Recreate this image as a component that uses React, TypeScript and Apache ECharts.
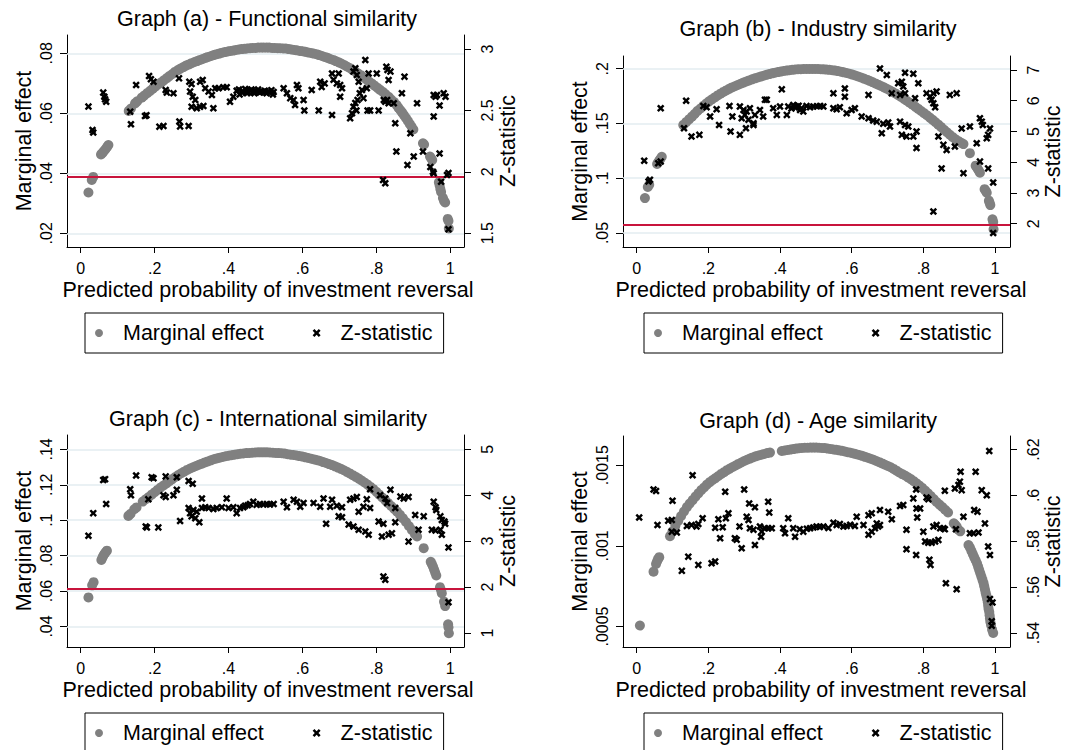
import React, { useEffect, useRef } from "react";
import * as echarts from "echarts";

const FONT = '"Liberation Sans", Arial, Helvetica, sans-serif';

const titles = [
  "Graph (a) - Functional similarity",
  "Graph (b) - Industry similarity",
  "Graph (c) - International similarity",
  "Graph (d) - Age similarity",
];
const xTitle = "Predicted probability of investment reversal";
const leftTitle = "Marginal effect";
const rightTitle = "Z-statistic";
const seriesNames = ["Marginal effect", "Z-statistic"];

const xTicks = [0, 0.2, 0.4, 0.6, 0.8, 1];
const leftTicksA = [0.02, 0.04, 0.06, 0.08];
const rightTicksA = [1.5, 2, 2.5, 3];
const leftTicksB = [0.05, 0.1, 0.15, 0.2];
const rightTicksB = [2, 3, 4, 5, 6, 7];
const leftTicksC = [0.04, 0.06, 0.08, 0.1, 0.12, 0.14];
const rightTicksC = [1, 2, 3, 4, 5];
const leftTicksD = [0.0005, 0.001, 0.0015];
const rightTicksD = [0.54, 0.56, 0.58, 0.6, 0.62];

const criticalZ = 1.96;

// Graph (a)
const meA = [
  [0.021,0.0336],[0.030,0.0378],[0.034,0.0388],
  [0.055,0.0463],[0.059,0.0468],[0.063,0.0474],[0.067,0.0480],[0.071,0.0487],[0.075,0.0494],
  [0.130,0.0608],[0.136,0.0616],[0.147,0.0633],[0.153,0.0640],
  [0.165,0.0652],[0.172,0.0659],[0.180,0.0667],[0.188,0.0675],[0.195,0.0682],[0.203,0.0690],[0.210,0.0697],[0.218,0.0703],[0.225,0.0710],[0.233,0.0717],[0.240,0.0724],[0.248,0.0731],[0.255,0.0738],[0.263,0.0744],[0.270,0.0749],[0.278,0.0754],[0.285,0.0759],[0.293,0.0763],[0.300,0.0767],[0.308,0.0771],[0.315,0.0774],[0.323,0.0778],[0.330,0.0781],[0.338,0.0785],[0.345,0.0788],[0.353,0.0791],[0.360,0.0794],[0.368,0.0797],[0.375,0.0799],[0.383,0.0802],[0.390,0.0804],[0.398,0.0806],[0.405,0.0808],[0.413,0.0809],[0.420,0.0811],[0.428,0.0813],[0.435,0.0814],[0.443,0.0815],[0.450,0.0816],[0.458,0.0817],[0.465,0.0818],[0.473,0.0818],[0.480,0.0819],[0.488,0.0819],[0.495,0.0819],[0.503,0.0819],[0.510,0.0819],[0.518,0.0818],[0.525,0.0818],[0.533,0.0817],[0.540,0.0817],[0.548,0.0816],[0.555,0.0816],[0.563,0.0814],[0.570,0.0813],[0.578,0.0811],[0.585,0.0810],[0.593,0.0808],[0.600,0.0807],[0.608,0.0805],[0.615,0.0803],[0.623,0.0801],[0.630,0.0799],[0.638,0.0797],[0.645,0.0794],[0.653,0.0791],[0.660,0.0788],[0.668,0.0785],[0.675,0.0781],[0.683,0.0778],[0.690,0.0774],[0.698,0.0770],[0.705,0.0766],[0.713,0.0761],[0.720,0.0756],[0.728,0.0751],[0.735,0.0745],[0.743,0.0739],[0.750,0.0733],[0.758,0.0727],[0.765,0.0720],[0.773,0.0713],[0.780,0.0706],[0.788,0.0699],[0.795,0.0692],[0.803,0.0685],[0.810,0.0678],[0.818,0.0671],[0.825,0.0663],[0.833,0.0655],[0.840,0.0646],[0.848,0.0637],[0.855,0.0627],[0.860,0.0618],[0.865,0.0610],[0.870,0.0602],[0.875,0.0593],[0.880,0.0584],[0.885,0.0575],[0.890,0.0565],[0.895,0.0556],[0.900,0.0546],
  [0.926,0.0500],[0.929,0.0496],[0.945,0.0456],[0.948,0.0450],[0.951,0.0444],[0.969,0.0370],[0.971,0.0360],[0.973,0.0348],[0.975,0.0338],[0.980,0.0318],[0.983,0.0308],[0.986,0.0303],[0.993,0.0248],[0.995,0.0241],[0.996,0.0216],
];
const zA = [
  [0.021,2.531],[0.032,2.341],[0.034,2.32],[0.061,2.645],[0.064,2.612],[0.066,2.59],[0.069,2.571],
  [0.134,2.49],[0.136,2.387],[0.150,2.707],[0.174,2.455],[0.178,2.46],[0.185,2.78],[0.190,2.753],[0.197,2.734],[0.213,2.368],[0.224,2.373],[0.230,2.666],[0.233,2.645],[0.251,2.639],[0.266,2.761],[0.267,2.41],[0.269,2.37],[0.292,2.373],[0.294,2.734],[0.300,2.715],[0.296,2.653],[0.303,2.612],[0.310,2.585],[0.300,2.53],[0.314,2.517],[0.323,2.53],[0.332,2.536],[0.323,2.734],[0.330,2.747],[0.337,2.68],[0.346,2.653],[0.355,2.626],[0.359,2.517],[0.364,2.68],[0.373,2.68],[0.386,2.688],[0.395,2.688],[0.404,2.571],[0.413,2.612],
  [0.422,2.66],[0.428,2.67],[0.430,2.63],[0.436,2.645],[0.440,2.655],[0.445,2.675],[0.449,2.665],[0.450,2.64],[0.453,2.65],[0.458,2.66],[0.462,2.67],[0.467,2.65],[0.470,2.64],[0.471,2.66],[0.476,2.655],[0.480,2.67],[0.485,2.645],[0.490,2.655],[0.494,2.648],[0.498,2.66],[0.503,2.64],[0.507,2.655],[0.512,2.645],[0.516,2.665],[0.520,2.63],[0.522,2.65],
  [0.549,2.68],[0.558,2.64],[0.567,2.6],[0.576,2.585],[0.580,2.544],[0.585,2.707],[0.589,2.68],[0.603,2.585],[0.605,2.5],[0.625,2.666],[0.644,2.5],[0.648,2.734],[0.652,2.69],[0.660,2.72],[0.680,2.8],[0.684,2.75],[0.693,2.72],[0.680,2.463],[0.698,2.8],[0.702,2.707],[0.707,2.68],[0.702,2.612],[0.729,2.436],[0.734,2.477],[0.738,2.53],[0.743,2.56],[0.738,2.816],[0.743,2.843],[0.747,2.788],[0.752,2.734],[0.746,2.50],[0.749,2.585],[0.755,2.64],[0.761,2.666],[0.765,2.6],[0.770,2.91],[0.774,2.68],[0.779,2.8],[0.776,2.5],[0.783,2.5],[0.801,2.8],[0.806,2.5],[0.818,1.934],[0.824,1.907],[0.820,2.585],[0.824,2.571],[0.829,2.585],[0.833,2.558],[0.827,2.856],[0.830,2.83],[0.833,2.747],[0.838,2.816],[0.847,2.558],[0.851,2.395],[0.854,2.165],[0.869,2.639],[0.876,2.775],[0.884,2.056],[0.901,2.124],[0.892,2.314],[0.910,2.558],[0.926,2.165],[0.946,2.04],[0.953,2.0],[0.955,1.988],[0.955,2.626],[0.960,2.612],[0.964,2.626],[0.955,2.45],[0.971,2.54],[0.971,2.15],[0.975,1.92],[0.982,2.64],[0.987,2.612],[0.991,1.975],[0.995,1.99],[0.995,1.533],
];

// Graph (b)
const meB = [
  [0.023,0.0819],[0.031,0.0920],[0.035,0.0940],[0.057,0.1130],[0.060,0.1145],[0.063,0.1160],[0.066,0.1175],[0.070,0.1195],
  [0.130,0.1487],[0.138,0.1512],[0.146,0.1537],[0.154,0.1562],[0.162,0.1588],[0.170,0.1615],[0.178,0.1637],[0.186,0.1660],[0.194,0.1682],[0.202,0.1702],[0.210,0.1720],[0.218,0.1738],[0.226,0.1756],[0.234,0.1772],[0.242,0.1788],[0.250,0.1802],[0.258,0.1816],[0.266,0.1829],[0.274,0.1840],[0.282,0.1851],[0.290,0.1863],[0.298,0.1873],[0.306,0.1883],[0.314,0.1893],[0.322,0.1903],[0.330,0.1912],[0.338,0.1920],[0.346,0.1928],[0.354,0.1936],[0.362,0.1944],[0.370,0.1951],[0.378,0.1958],[0.386,0.1964],[0.394,0.1969],[0.402,0.1974],[0.410,0.1979],[0.418,0.1983],[0.426,0.1987],[0.434,0.1990],[0.442,0.1993],[0.450,0.1995],[0.458,0.1996],[0.466,0.1997],[0.474,0.1998],[0.482,0.1998],[0.490,0.1998],[0.498,0.1998],[0.506,0.1997],[0.514,0.1996],[0.522,0.1994],[0.530,0.1992],[0.538,0.1990],[0.546,0.1987],[0.554,0.1983],[0.562,0.1978],[0.570,0.1973],[0.578,0.1967],[0.586,0.1961],[0.594,0.1954],[0.602,0.1946],[0.610,0.1938],[0.618,0.1929],[0.626,0.1920],[0.634,0.1910],[0.642,0.1900],[0.650,0.1889],[0.658,0.1878],[0.666,0.1866],[0.674,0.1854],[0.682,0.1842],[0.690,0.1830],[0.698,0.1817],[0.706,0.1803],[0.714,0.1789],[0.722,0.1774],[0.730,0.1758],[0.738,0.1742],[0.746,0.1725],[0.754,0.1707],[0.762,0.1689],[0.770,0.1671],[0.778,0.1652],[0.786,0.1633],[0.794,0.1614],[0.802,0.1594],[0.810,0.1575],[0.818,0.1554],[0.826,0.1533],[0.834,0.1511],[0.842,0.1489],[0.850,0.1466],[0.858,0.1443],[0.866,0.1420],[0.874,0.1397],[0.882,0.1375],[0.890,0.1355],[0.898,0.1338],[0.906,0.1323],[0.912,0.1312],
  [0.930,0.1229],[0.946,0.1115],[0.949,0.1100],[0.952,0.1085],[0.955,0.1068],[0.958,0.1050],[0.971,0.0900],[0.974,0.0885],[0.977,0.0868],[0.983,0.0795],[0.985,0.0775],[0.987,0.0755],[0.993,0.0625],[0.995,0.0600],[0.996,0.0535],
];
const zB = [
  [0.021,4.045],[0.033,3.374],[0.037,3.43],[0.067,5.755],[0.060,3.97],[0.067,4.02],
  [0.132,5.106],[0.138,6.0],[0.153,4.835],[0.175,4.89],[0.186,5.83],[0.195,5.79],[0.205,5.485],[0.223,5.72],[0.230,5.214],[0.259,5.83],[0.262,5.0],[0.267,5.485],[0.288,4.89],[0.288,5.81],[0.298,5.70],[0.307,5.65],[0.316,5.755],[0.293,5.43],[0.302,5.54],[0.312,5.38],[0.326,5.27],[0.330,5.54],[0.305,5.106],[0.326,5.21],[0.344,5.70],[0.353,5.485],[0.358,6.03],[0.363,6.03],[0.381,5.755],[0.391,5.54],[0.400,5.81],[0.405,6.37],[0.419,5.54],[0.423,5.81],[0.437,5.86],[0.447,5.81],[0.456,5.7],[0.465,5.65],[0.432,5.75],[0.442,5.78],[0.452,5.84],[0.460,5.76],[0.474,5.83],[0.484,5.79],[0.493,5.81],[0.503,5.82],[0.512,5.83],[0.521,5.81],[0.549,5.755],[0.558,5.72],[0.567,5.79],[0.549,6.24],[0.581,6.40],[0.581,6.13],[0.586,5.59],[0.600,5.70],[0.609,5.755],[0.628,5.485],[0.647,5.43],[0.660,5.355],[0.670,5.32],[0.688,5.25],[0.702,5.29],[0.647,6.19],[0.679,7.05],[0.698,6.84],[0.684,4.94],[0.707,5.16],[0.712,6.24],[0.730,6.57],[0.740,6.62],[0.744,6.46],[0.749,6.24],[0.735,6.19],[0.749,6.91],[0.772,6.88],[0.735,5.32],[0.749,5.21],[0.758,5.16],[0.740,4.89],[0.753,4.835],[0.772,4.835],[0.781,5.0],[0.777,6.08],[0.781,4.46],[0.786,6.57],[0.809,6.24],[0.819,6.13],[0.823,6.03],[0.828,5.92],[0.833,5.79],[0.837,6.3],[0.828,6.24],[0.828,2.4],[0.842,4.835],[0.856,4.565],[0.865,4.4],[0.851,3.8],[0.874,6.19],[0.893,6.24],[0.888,4.51],[0.907,5.1],[0.930,5.16],[0.912,3.645],[0.949,4.62],[0.958,5.43],[0.963,5.32],[0.966,5.21],[0.958,4.02],[0.977,4.78],[0.981,4.89],[0.986,5.1],[0.981,3.8],[0.995,3.34],[0.995,1.70],
];

// Graph (c)
const meC = [
  [0.021,0.0564],[0.031,0.0632],[0.035,0.0650],[0.056,0.0775],[0.059,0.0790],[0.062,0.0802],[0.065,0.0812],[0.068,0.0820],[0.071,0.0828],
  [0.129,0.1024],[0.135,0.1036],[0.145,0.1062],[0.151,0.1072],
  [0.168,0.1105],[0.176,0.1118],[0.184,0.1131],[0.192,0.1144],[0.200,0.1158],[0.208,0.1171],[0.216,0.1184],[0.224,0.1196],[0.232,0.1207],[0.240,0.1220],[0.248,0.1232],[0.256,0.1244],[0.264,0.1255],[0.272,0.1265],[0.280,0.1274],[0.288,0.1284],[0.296,0.1292],[0.304,0.1299],[0.312,0.1306],[0.320,0.1313],[0.328,0.1319],[0.336,0.1326],[0.344,0.1332],[0.352,0.1338],[0.360,0.1344],[0.368,0.1349],[0.376,0.1353],[0.384,0.1357],[0.392,0.1361],[0.400,0.1364],[0.408,0.1367],[0.416,0.1370],[0.424,0.1373],[0.432,0.1375],[0.440,0.1377],[0.448,0.1379],[0.456,0.1380],[0.464,0.1381],[0.472,0.1382],[0.480,0.1383],[0.488,0.1383],[0.496,0.1383],[0.504,0.1383],[0.512,0.1382],[0.520,0.1381],[0.528,0.1380],[0.536,0.1379],[0.544,0.1378],[0.552,0.1376],[0.560,0.1373],[0.568,0.1370],[0.576,0.1368],[0.584,0.1365],[0.592,0.1362],[0.600,0.1359],[0.608,0.1355],[0.616,0.1351],[0.624,0.1347],[0.632,0.1343],[0.640,0.1339],[0.648,0.1334],[0.656,0.1328],[0.664,0.1323],[0.672,0.1317],[0.680,0.1311],[0.688,0.1304],[0.696,0.1297],[0.704,0.1290],[0.712,0.1282],[0.720,0.1273],[0.728,0.1264],[0.736,0.1254],[0.744,0.1245],[0.752,0.1235],[0.760,0.1224],[0.768,0.1213],[0.776,0.1201],[0.784,0.1188],[0.792,0.1175],[0.800,0.1160],[0.808,0.1144],[0.816,0.1128],[0.824,0.1112],[0.832,0.1096],[0.840,0.1080],[0.848,0.1064],[0.856,0.1048],[0.864,0.1030],[0.872,0.1010],[0.880,0.0990],[0.888,0.0967],[0.896,0.0945],[0.904,0.0922],[0.910,0.0908],
  [0.928,0.0842],[0.947,0.0765],[0.950,0.0752],[0.953,0.0738],[0.956,0.0722],[0.959,0.0705],[0.962,0.0688],[0.972,0.0622],[0.975,0.0605],[0.977,0.0588],[0.983,0.0540],[0.986,0.0515],[0.994,0.0412],[0.995,0.0395],[0.996,0.0362],
];
const zC = [
  [0.021,3.116],[0.034,3.61],[0.061,4.33],[0.066,4.35],[0.069,3.81],
  [0.134,4.13],[0.136,4.0],[0.150,4.43],[0.176,3.32],[0.179,3.3],[0.183,3.91],[0.192,4.39],[0.197,4.37],[0.210,3.3],[0.224,4.0],[0.230,3.96],[0.230,4.41],[0.251,4.0],[0.260,4.12],[0.260,4.39],[0.269,3.44],[0.292,4.31],[0.303,4.25],[0.292,3.72],[0.296,3.61],[0.300,3.54],[0.310,3.5],[0.321,3.41],[0.305,3.68],[0.314,3.64],[0.328,3.93],
  [0.328,3.72],[0.337,3.74],[0.346,3.72],[0.359,3.70],[0.368,3.72],[0.382,3.74],[0.395,3.93],[0.400,3.72],[0.413,3.74],[0.422,3.61],[0.431,3.72],[0.445,3.77],[0.458,3.81],[0.467,3.86],[0.485,3.81],[0.504,3.81],[0.522,3.81],[0.440,3.74],[0.452,3.78],[0.476,3.79],[0.494,3.80],[0.512,3.80],
  [0.549,3.86],[0.558,3.74],[0.576,3.9],[0.585,3.86],[0.594,3.75],[0.603,3.83],[0.630,3.83],[0.648,3.75],[0.657,3.93],[0.664,3.38],[0.675,3.75],[0.680,3.9],[0.693,3.77],[0.707,3.74],[0.698,3.54],[0.707,3.52],[0.725,3.36],[0.738,3.32],[0.752,3.25],[0.770,3.21],[0.779,3.14],[0.729,3.9],[0.738,3.93],[0.747,3.96],[0.752,3.64],[0.765,3.75],[0.774,3.91],[0.783,3.72],[0.783,4.13],[0.806,3.43],[0.810,4.0],[0.819,3.38],[0.824,3.93],[0.829,3.83],[0.838,4.12],[0.815,3.1],[0.833,3.14],[0.842,3.17],[0.819,2.23],[0.824,2.16],[0.851,3.72],[0.851,3.41],[0.865,3.97],[0.874,3.93],[0.887,3.96],[0.887,2.99],[0.905,3.57],[0.914,3.25],[0.928,3.54],[0.955,3.86],[0.960,3.74],[0.962,3.68],[0.950,3.25],[0.960,3.23],[0.973,3.54],[0.977,3.46],[0.973,3.25],[0.977,3.14],[0.984,3.43],[0.986,3.38],[0.995,2.86],[0.995,1.67],
];

// Graph (d)
const meD = [
  [0.009,0.000506],[0.047,0.000840],[0.054,0.000888],[0.057,0.000905],[0.060,0.000920],[0.063,0.000930],
  [0.093,0.00106],[0.100,0.00109],[0.108,0.001125],[0.116,0.001155],[0.124,0.001185],[0.132,0.001213],[0.140,0.00124],[0.148,0.001262],[0.156,0.001283],[0.164,0.001305],[0.172,0.001325],[0.180,0.001345],[0.188,0.001362],[0.196,0.00138],[0.204,0.001395],[0.212,0.001408],[0.220,0.00142],[0.228,0.001433],[0.236,0.001446],[0.244,0.001457],[0.252,0.001469],[0.260,0.001479],[0.268,0.001489],[0.276,0.001498],[0.284,0.001508],[0.292,0.001517],[0.300,0.001526],[0.308,0.001534],[0.316,0.001541],[0.324,0.001548],[0.332,0.001555],[0.340,0.00156],[0.348,0.001565],[0.356,0.00157],[0.364,0.001575],[0.372,0.001578],
  [0.405,0.001588],[0.413,0.001591],[0.421,0.001594],[0.429,0.001597],[0.437,0.0016],[0.445,0.001603],[0.453,0.001605],[0.461,0.001607],[0.469,0.001608],[0.477,0.001608],[0.485,0.001609],[0.493,0.001609],[0.501,0.001609],[0.509,0.001608],[0.517,0.001607],[0.525,0.001606],[0.533,0.001603],[0.541,0.001601],[0.549,0.001598],[0.557,0.001595],[0.565,0.001592],[0.573,0.001589],[0.581,0.001585],[0.589,0.001581],[0.597,0.001577],[0.605,0.001573],[0.613,0.001568],[0.621,0.001563],[0.629,0.001558],[0.637,0.001552],[0.645,0.001546],[0.653,0.00154],[0.661,0.001534],[0.669,0.001526],[0.677,0.001519],[0.685,0.001511],[0.693,0.001503],[0.701,0.001495],[0.709,0.001487],[0.717,0.001477],[0.725,0.001466],[0.733,0.001455],[0.741,0.001445],[0.749,0.001436],[0.757,0.001425],[0.765,0.001414],[0.773,0.001401],[0.781,0.001388],[0.789,0.001374],[0.797,0.001359],[0.805,0.001343],[0.813,0.001326],[0.821,0.001308],[0.829,0.00129],[0.837,0.001272],[0.845,0.001256],[0.853,0.001241],[0.861,0.001224],[0.869,0.001207],
  [0.885,0.00114],[0.889,0.00113],[0.893,0.00112],[0.898,0.0011],[0.903,0.00109],
  [0.926,0.001005],[0.930,0.00099],[0.934,0.00097],[0.938,0.00095],[0.942,0.00093],[0.946,0.00091],[0.950,0.00089],[0.953,0.00087],[0.956,0.00085],[0.959,0.00083],[0.962,0.00081],[0.965,0.00079],[0.968,0.00077],[0.970,0.00075],[0.972,0.00073],[0.974,0.00071],[0.976,0.00069],[0.978,0.00067],[0.980,0.00065],[0.981,0.00063],[0.982,0.00061],[0.984,0.00059],[0.985,0.00057],[0.986,0.00055],[0.987,0.00053],[0.989,0.00051],[0.992,0.00048],[0.995,0.00046],
];
const zD = [
  [0.007,0.5904],[0.047,0.6026],[0.054,0.6019],[0.058,0.5871],[0.088,0.589],[0.098,0.5893],[0.100,0.5977],[0.098,0.5842],[0.112,0.5838],[0.126,0.5671],[0.140,0.5867],[0.153,0.5871],[0.167,0.5864],[0.172,0.5875],[0.144,0.5733],[0.156,0.6088],[0.172,0.5697],[0.184,0.59],[0.209,0.5704],[0.219,0.5712],[0.219,0.5859],[0.228,0.5896],[0.233,0.5813],[0.240,0.5861],[0.247,0.6016],[0.249,0.59],[0.256,0.5922],[0.274,0.5813],[0.279,0.5807],[0.287,0.5864],[0.293,0.577],[0.300,0.6026],[0.307,0.5907],[0.312,0.5893],[0.316,0.5857],[0.326,0.585],[0.314,0.5965],[0.330,0.5948],[0.330,0.5784],[0.344,0.5864],[0.349,0.5842],[0.358,0.5857],[0.367,0.5857],[0.347,0.582],[0.367,0.5972],[0.370,0.5925],[0.377,0.5857],[0.409,0.5857],[0.414,0.5835],[0.423,0.59],[0.437,0.5857],[0.442,0.582],[0.455,0.5852],[0.465,0.5842],[0.475,0.5855],[0.484,0.5857],[0.493,0.586],[0.502,0.5864],[0.511,0.5862],[0.521,0.5864],[0.535,0.5858],[0.549,0.5881],[0.558,0.5871],[0.567,0.5875],[0.577,0.5864],[0.586,0.5867],[0.596,0.5872],[0.609,0.5867],[0.614,0.5907],[0.633,0.5871],[0.647,0.5914],[0.656,0.5922],[0.647,0.5828],[0.656,0.5842],[0.665,0.5857],[0.670,0.5878],[0.674,0.5864],[0.679,0.5871],[0.679,0.5936],[0.702,0.5929],[0.712,0.5896],[0.735,0.5954],[0.744,0.5958],[0.753,0.585],[0.753,0.5765],[0.772,0.5987],[0.780,0.6026],[0.781,0.5943],[0.791,0.5943],[0.783,0.5904],[0.780,0.574],[0.800,0.5842],[0.805,0.5799],[0.814,0.5794],[0.823,0.5794],[0.833,0.5799],[0.842,0.5806],[0.809,0.5991],[0.814,0.5983],[0.817,0.5719],[0.820,0.5697],[0.828,0.5864],[0.837,0.5871],[0.847,0.5857],[0.856,0.5857],[0.860,0.5852],[0.860,0.602],[0.863,0.5617],[0.888,0.603],[0.898,0.6045],[0.902,0.606],[0.904,0.6103],[0.907,0.6023],[0.891,0.5852],[0.893,0.5591],[0.912,0.5907],[0.930,0.5835],[0.940,0.5835],[0.954,0.5838],[0.942,0.5936],[0.951,0.5929],[0.946,0.6103],[0.963,0.6023],[0.977,0.6001],[0.972,0.5878],[0.981,0.5777],[0.986,0.574],[0.984,0.6194],[0.986,0.5548],[0.993,0.5533],[0.991,0.5451],[0.991,0.5432],
];

const X_SYMBOL =
  "path://M0,2.3L2.3,0L5,2.7L7.7,0L10,2.3L7.3,5L10,7.7L7.7,10L5,7.3L2.3,10L0,7.7L2.7,5Z";

const fmt = (v: number) => {
  const s = String(Number(v.toPrecision(6)));
  return s.replace(/^0\./, ".").replace(/^-0\./, "-.");
};

export default function App() {
  const ref = useRef<HTMLDivElement>(null);

  useEffect(() => {
    if (!ref.current) return;
    const chart = echarts.init(ref.current, null, { renderer: "svg" });

    const panels = [
      { me: meA, z: zA, lt: leftTicksA, rt: rightTicksA, redLine: true },
      { me: meB, z: zB, lt: leftTicksB, rt: rightTicksB, redLine: true },
      { me: meC, z: zC, lt: leftTicksC, rt: rightTicksC, redLine: true },
      { me: meD, z: zD, lt: leftTicksD, rt: rightTicksD, redLine: false },
    ];
    const layout = [
      { grid: { left: 67, top: 35, width: 397, height: 212 }, xr: [-0.037, 1.037], yl: [0.01543, 0.0861], yr: [1.388, 3.114], tx: 267, ty: 8, lx: 85, ly: 313, rGap: 33, xShift: 5 },
      { grid: { left: 623, top: 56, width: 387, height: 191 }, xr: [-0.0382, 1.0419], yl: [0.0372, 0.2116], yr: [1.243, 7.455], tx: 818, ty: 18, lx: 644, ly: 313, rGap: 29, xShift: 9 },
      { grid: { left: 67, top: 435, width: 397, height: 212 }, xr: [-0.037, 1.037], yl: [0.0284, 0.1481], yr: [0.696, 5.311], tx: 268, ty: 408, lx: 85, ly: 713, rGap: 33, xShift: 5 },
      { grid: { left: 623, top: 436, width: 387, height: 211 }, xr: [-0.0382, 1.0419], yl: [0.000373, 0.001681], yr: [0.5339, 0.6259], tx: 818, ty: 410, lx: 644, ly: 713, rGap: 29, xShift: 9 },
    ];

    const BIG = 21.5;
    const nameStyle = { fontSize: BIG, color: "#000", fontFamily: FONT };
    const labelStyle = { fontSize: 16, color: "#000", fontFamily: FONT };
    const lineStyle = { color: "#000", width: 1 };

    const option: any = {
      animation: false,
      backgroundColor: "#fff",
      title: panels.map((_, i) => ({
        text: titles[i],
        left: layout[i].tx,
        top: layout[i].ty,
        textAlign: "center",
        padding: 0,
        textStyle: { fontSize: BIG, fontWeight: "normal", color: "#000", fontFamily: FONT },
      })),
      legend: panels.map((_, i) => ({
        data: [seriesNames[0], seriesNames[1]],
        left: layout[i].lx,
        top: layout[i].ly,
        orient: "horizontal",
        selectedMode: false,
        borderColor: "#000",
        borderWidth: 1,
        borderRadius: 0,
        padding: [9, 11, 9, 10],
        itemWidth: 10,
        itemHeight: 8,
        itemGap: 49,
        textStyle: { fontSize: BIG, color: "#000", fontFamily: FONT, padding: [0, 0, 0, 14] },
      })),
      grid: layout.map((l) => ({ ...l.grid, containLabel: false })),
      xAxis: panels.map((_, i) => ({
        type: "value",
        gridIndex: i,
        min: layout[i].xr[0],
        max: layout[i].xr[1],
        name: xTitle,
        nameLocation: "middle",
        nameGap: 32,
        nameTextStyle: { ...nameStyle, padding: [0, 0, 0, layout[i].xShift] },
        axisLine: { show: true, onZero: false, lineStyle },
        axisTick: { show: true, length: 6, customValues: xTicks, lineStyle },
        axisLabel: { customValues: xTicks, formatter: fmt, margin: 13, ...labelStyle },
        splitLine: { show: false },
      })),
      yAxis: panels.flatMap((p, i) => [
        {
          type: "value",
          gridIndex: i,
          position: "left",
          min: layout[i].yl[0],
          max: layout[i].yl[1],
          name: leftTitle,
          nameLocation: "middle",
          nameGap: 32,
          nameRotate: 90,
          nameTextStyle: nameStyle,
          axisLine: { show: true, onZero: false, lineStyle },
          axisTick: { show: true, length: 7, customValues: p.lt, lineStyle },
          axisLabel: { customValues: p.lt, formatter: fmt, rotate: 90, margin: 13, ...labelStyle },
          splitLine: { show: false },
        },
        {
          type: "value",
          gridIndex: i,
          position: "right",
          min: layout[i].yr[0],
          max: layout[i].yr[1],
          name: rightTitle,
          nameLocation: "middle",
          nameGap: layout[i].rGap,
          nameRotate: 90,
          nameTextStyle: nameStyle,
          axisLine: { show: true, onZero: false, lineStyle },
          axisTick: { show: true, length: 7, customValues: p.rt, lineStyle },
          axisLabel: { customValues: p.rt, formatter: fmt, rotate: 90, margin: 15, ...labelStyle },
          splitLine: { show: false },
        },
      ]),
      series: panels.flatMap((p, i) => [
        {
          name: seriesNames[0],
          type: "scatter",
          xAxisIndex: i,
          yAxisIndex: 2 * i,
          data: p.me,
          symbol: "circle",
          symbolSize: 10,
          z: 2,
          itemStyle: { color: "#808080", opacity: 1 },
          markLine: {
            silent: true,
            symbol: "none",
            z: 1,
            label: { show: false },
            lineStyle: { color: "#e3ecf0", width: 1.6, type: "solid" },
            data: p.lt.map((v) => ({ yAxis: v })),
          },
        },
        {
          name: seriesNames[1],
          type: "scatter",
          xAxisIndex: i,
          yAxisIndex: 2 * i + 1,
          data: p.z,
          symbol: X_SYMBOL,
          symbolSize: 7.5,
          z: 4,
          itemStyle: { color: "#000", opacity: 1 },
          markLine: p.redLine
            ? {
                silent: true,
                symbol: "none",
                z: 3,
                label: { show: false },
                lineStyle: { color: "#c8143c", width: 2, type: "solid" },
                data: [{ yAxis: criticalZ }],
              }
            : undefined,
        },
      ]),
    };

    chart.setOption(option);
    return () => chart.dispose();
  }, []);

  return (
    <div
      ref={ref}
      style={{ position: "absolute", left: 0, top: 0, width: 1077, height: 750, background: "#fff" }}
    />
  );
}
